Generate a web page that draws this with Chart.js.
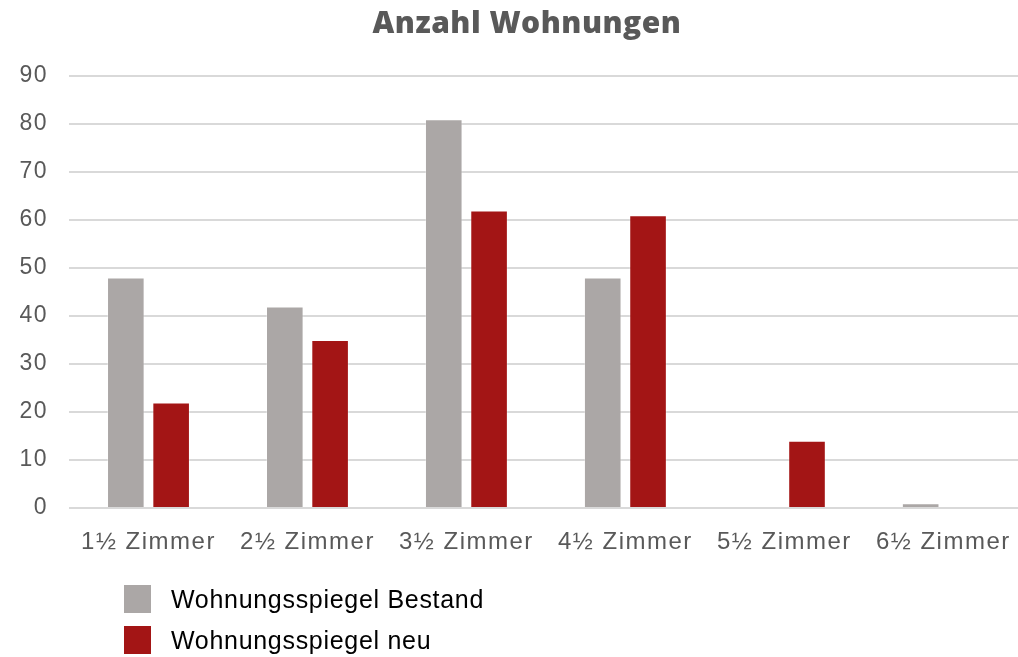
<!DOCTYPE html>
<html>
<head>
<meta charset="utf-8">
<script src="https://cdn.jsdelivr.net/npm/chart.js@4"></script>
<style>
  html, body { margin: 0; padding: 0; background: #fff; overflow: hidden; width: 1018px; height: 657px; }
  #wrap { position: relative; width: 1024px; height: 657px; }
  #legend { position: absolute; left: 124px; top: 585px; font-family: "Liberation Sans", Arial, sans-serif; font-size: 25px; letter-spacing: 0.7px; color: #000; }
  .item { display: flex; align-items: center; height: 28px; margin-bottom: 13px; }
  .box { width: 27px; height: 28px; margin-right: 20px; }
</style>
</head>
<body>
<div id="wrap">
  <canvas id="c"></canvas>
  <div id="legend"></div>
</div>
<script>
const chartTitle = "Anzahl Wohnungen";
const categories = ["1½ Zimmer", "2½ Zimmer", "3½ Zimmer", "4½ Zimmer", "5½ Zimmer", "6½ Zimmer"];
const seriesNames = ["Wohnungsspiegel Bestand", "Wohnungsspiegel neu"];
const bestand = [48, 42, 81, 48, 0, 1];
const neu = [22, 35, 62, 61, 14, 0];
const seriesColors = ["#ABA7A6", "#A31515"];
const yTicks = [0, 10, 20, 30, 40, 50, 60, 70, 80, 90];

const titlePlugin = {
  id: 'customTitle',
  beforeDraw(chart) {
    chart.ctx.letterSpacing = '1.5px';
  },
  afterDraw(chart) {
    const ctx = chart.ctx;
    ctx.save();
    ctx.letterSpacing = '0.5px';
    ctx.font = '800 30px "Open Sans", sans-serif';
    ctx.fillStyle = '#595959';
    ctx.textAlign = 'center';
    ctx.textBaseline = 'alphabetic';
    ctx.fillText(chartTitle, 527, 33);
    ctx.restore();
  }
};

const chart = new Chart(document.getElementById('c'), {
  type: 'bar',
  data: {
    labels: categories,
    datasets: [
      { label: seriesNames[0], data: bestand, backgroundColor: seriesColors[0], borderColor: 'rgba(255,255,255,0.3)', borderWidth: 1, categoryPercentage: 0.57, barPercentage: 0.83 },
      { label: seriesNames[1], data: neu, backgroundColor: seriesColors[1], borderColor: 'rgba(255,255,255,0.3)', borderWidth: 1, categoryPercentage: 0.57, barPercentage: 0.83 }
    ]
  },
  options: {
    responsive: true,
    maintainAspectRatio: false,
    animation: false,
    layout: { padding: { top: 76, left: 0, right: 0, bottom: 0 } },
    plugins: {
      legend: { display: false },
      title: { display: false },
      tooltip: { enabled: false }
    },
    scales: {
      x: {
        grid: { display: false, drawTicks: false },
        border: { display: false },
        ticks: { color: '#595959', font: { family: '"Liberation Sans", Arial, sans-serif', size: 24 }, padding: 20, maxRotation: 0, autoSkip: false },
        afterFit(s) { s.height = 149; }
      },
      y: {
        min: 0, max: 90,
        afterBuildTicks(s) { s.ticks = yTicks.map(v => ({ value: v })); },
        grid: { color: '#D9D9D9', lineWidth: 2, drawTicks: false },
        border: { display: false },
        ticks: { color: '#595959', font: { family: '"Liberation Sans", Arial, sans-serif', size: 23 }, padding: 21 },
        afterFit(s) { s.width = 69; }
      }
    }
  },
  plugins: [titlePlugin]
});

const legendEl = document.getElementById('legend');
seriesNames.forEach((n, i) => {
  const d = document.createElement('div');
  d.className = 'item';
  d.innerHTML = '<div class="box" style="background:' + seriesColors[i] + '"></div><span>' + n + '</span>';
  legendEl.appendChild(d);
});
</script>
</body>
</html>
